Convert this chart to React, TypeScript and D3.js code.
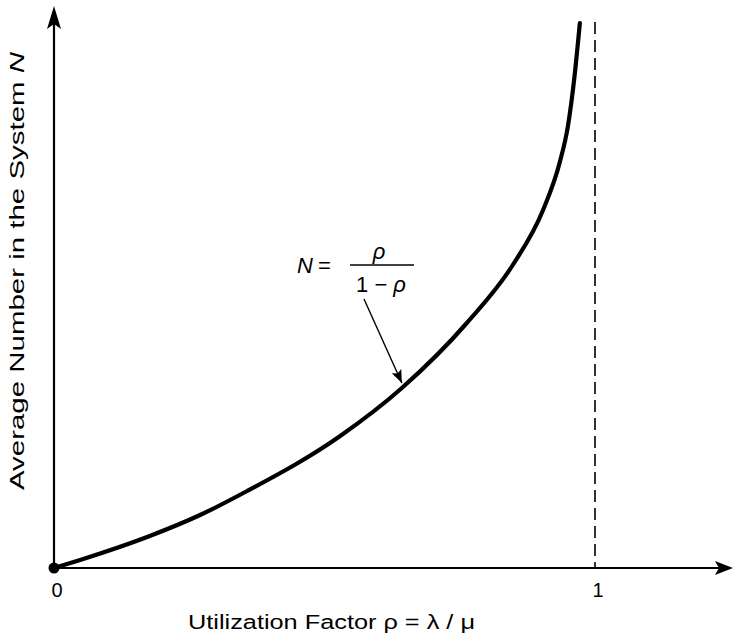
import React, { useRef, useEffect } from "react";
import * as d3 from "d3";

// curve points: utilization rho vs. average number N (drawing units)
const rhoValues = [0, 0.054, 0.177, 0.27, 0.357, 0.529, 0.643, 0.763, 0.848, 0.904, 0.935, 0.95, 0.962, 0.972];
const nValues = [0, 0.09, 0.32, 0.53, 0.77, 1.32, 1.8, 2.45, 3.03, 3.58, 4.06, 4.42, 4.91, 5.45];

const xTicks = [0, 1];
const xTickLabels = ["0", "1"];
const asymptote = 1;
const xMax = 1.255;
const yMax = 5.62;

const xLabel = "Utilization Factor ρ = λ / μ";
const yLabel = "Average Number in the System ";

const width = 738;
const height = 638;

const Chart = () => {
  const svgRef = useRef<SVGSVGElement>(null);

  useEffect(() => {
    const svg = d3.select(svgRef.current);
    svg.selectAll("*").remove();

    const font = "'Liberation Sans', Arial, sans-serif";
    const x = d3.scaleLinear().domain([0, 1]).range([54, 595]);
    const y = d3.scaleLinear().domain([0, 1]).range([568, 468]);

    const defs = svg.append("defs");
    defs.append("marker")
      .attr("id", "leader")
      .attr("viewBox", "0 0 10 10")
      .attr("refX", 10).attr("refY", 5)
      .attr("markerWidth", 13).attr("markerHeight", 13)
      .attr("markerUnits", "userSpaceOnUse")
      .attr("orient", "auto")
      .append("path")
      .attr("d", "M0,1 L10,5 L0,9 L2,5 Z")
      .attr("fill", "#000");

    // dashed asymptote at rho = 1
    svg.append("line")
      .attr("x1", x(asymptote)).attr("x2", x(asymptote))
      .attr("y1", y(yMax) + 16).attr("y2", y(0))
      .attr("stroke", "#000")
      .attr("stroke-width", 1.6)
      .attr("stroke-dasharray", "12,6");

    // axes
    svg.append("line")
      .attr("x1", x(0) - 2).attr("x2", x(xMax) - 14)
      .attr("y1", y(0)).attr("y2", y(0))
      .attr("stroke", "#000").attr("stroke-width", 2.2);
    svg.append("path")
      .attr("d", `M${x(xMax)},${y(0)} L${x(xMax) - 18},${y(0) - 7} L${x(xMax) - 14},${y(0)} L${x(xMax) - 18},${y(0) + 7} Z`)
      .attr("fill", "#000");

    svg.append("line")
      .attr("x1", x(0)).attr("x2", x(0))
      .attr("y1", y(0)).attr("y2", y(yMax) + 18)
      .attr("stroke", "#000").attr("stroke-width", 2.2);
    svg.append("path")
      .attr("d", `M${x(0)},${y(yMax)} L${x(0) - 7},${y(yMax) + 23} L${x(0)},${y(yMax) + 18} L${x(0) + 7},${y(yMax) + 23} Z`)
      .attr("fill", "#000");

    // the curve
    const pts: [number, number][] = rhoValues.map((r, i) => [r, nValues[i]]);
    const line = d3.line<[number, number]>()
      .x(d => x(d[0]))
      .y(d => y(d[1]))
      .curve(d3.curveMonotoneX);
    svg.append("path")
      .datum(pts)
      .attr("d", line)
      .attr("fill", "none")
      .attr("stroke", "#000")
      .attr("stroke-width", 4.2)
      .attr("stroke-linecap", "round");

    svg.append("circle")
      .attr("cx", x(0)).attr("cy", y(0))
      .attr("r", 5.5)
      .attr("fill", "#000");

    // tick labels
    svg.append("g")
      .selectAll("text")
      .data(xTicks)
      .enter()
      .append("text")
      .attr("x", d => x(d) + 3)
      .attr("y", y(0) + 29)
      .attr("text-anchor", "middle")
      .style("font-family", font)
      .style("font-size", "20px")
      .text((d, i) => xTickLabels[i]);

    // axis titles
    svg.append("text")
      .attr("x", 188)
      .attr("y", 629)
      .attr("textLength", 287)
      .attr("lengthAdjust", "spacingAndGlyphs")
      .style("font-family", font)
      .style("font-size", "20px")
      .text(xLabel);

    const yt = svg.append("text")
      .attr("transform", `translate(24,${271}) rotate(-90)`)
      .attr("x", -219)
      .attr("textLength", 438)
      .attr("lengthAdjust", "spacingAndGlyphs")
      .style("font-family", font)
      .style("font-size", "21px");
    yt.append("tspan").text(yLabel);
    yt.append("tspan").style("font-style", "italic").text("N");

    // formula annotation
    const fg = svg.append("g").style("font-family", font).style("font-size", "22px");
    fg.append("text").attr("x", 297).attr("y", 273).style("font-style", "italic").text("N");
    fg.append("text").attr("x", 318).attr("y", 273).text("=");
    fg.append("line")
      .attr("x1", 350).attr("x2", 414)
      .attr("y1", 265).attr("y2", 265)
      .attr("stroke", "#000").attr("stroke-width", 1.5);
    fg.append("text").attr("x", 379).attr("y", 259).attr("text-anchor", "middle")
      .style("font-style", "italic").text("ρ");
    const den = fg.append("text").attr("x", 381).attr("y", 292).attr("text-anchor", "middle");
    den.append("tspan").text("1 − ");
    den.append("tspan").style("font-style", "italic").text("ρ");

    const tipR = 0.643;
    const tipN = 1.83;
    svg.append("line")
      .attr("x1", 364).attr("y1", 299)
      .attr("x2", x(tipR)).attr("y2", y(tipN) - 2)
      .attr("stroke", "#000").attr("stroke-width", 1.4)
      .attr("marker-end", "url(#leader)");
  }, []);

  return <svg ref={svgRef} width={width} height={height} style={{ position: "absolute", left: 0, top: 0, background: "#fff" }}></svg>;
};

export default function App() {
  return <Chart />;
}
